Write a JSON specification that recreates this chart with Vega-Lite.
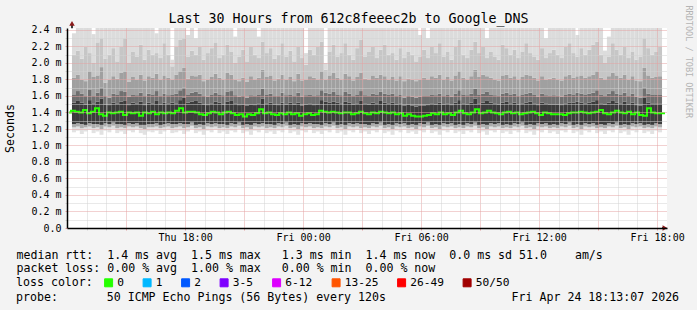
{
"$schema": "https://vega.github.io/schema/vega-lite/v6.json",
"width": 600, "height": 200,
"autosize": {"type": "none"},
"padding": {"left": 67, "top": 28, "right": 30, "bottom": 82},
"background": "#f3f3f3",
"config": {"view": {"fill": "white", "stroke": null}, "font": "DejaVu Sans Mono"},
"title": {"text": "probe:\u00a0\u00a0\u00a0\u00a0\u00a0\u00a0\u00a050 ICMP Echo Pings (56 Bytes) every 120s\u00a0\u00a0\u00a0\u00a0\u00a0\u00a0\u00a0\u00a0\u00a0\u00a0\u00a0\u00a0\u00a0\u00a0\u00a0\u00a0\u00a0\u00a0Fri Apr 24 18:13:07 2026",
  "orient": "bottom", "anchor": "start", "frame": "group", "align": "left", "baseline": "alphabetic", "offset": 0, "dx": -51, "dy": 12,
  "font": "DejaVu Sans Mono", "fontSize": 11.6, "fontWeight": "normal", "color": "black"},
"data": {"values": [
{"h":-11.65,"a":1.16,"b":1.22,"c":1.26,"m":1.40,"d":1.52,"e":1.62,"f":1.82,"g":2.1,"x":2.36},
{"h":-11.45,"a":1.18,"b":1.23,"c":1.27,"m":1.42,"d":1.54,"e":1.66,"f":1.86,"g":2.15,"x":2.6},
{"h":-11.25,"a":1.14,"b":1.21,"c":1.26,"m":1.41,"d":1.52,"e":1.63,"f":1.8,"g":2.05,"x":2.6},
{"h":-11.05,"a":1.17,"b":1.22,"c":1.25,"m":1.40,"d":1.5,"e":1.6,"f":1.78,"g":2.2,"x":2.6},
{"h":-10.85,"a":1.19,"b":1.23,"c":1.27,"m":1.43,"d":1.55,"e":1.68,"f":1.9,"g":2.12,"x":2.6},
{"h":-10.65,"a":1.15,"b":1.21,"c":1.26,"m":1.39,"d":1.51,"e":1.6,"f":1.83,"g":2.0,"x":2.35},
{"h":-10.45,"a":1.17,"b":1.22,"c":1.26,"m":1.41,"d":1.53,"e":1.64,"f":1.85,"g":2.25,"x":2.6},
{"h":-10.25,"a":1.13,"b":1.2,"c":1.25,"m":1.45,"d":1.57,"e":1.7,"f":1.95,"g":2.3,"x":2.6},
{"h":-10.05,"a":1.18,"b":1.23,"c":1.27,"m":1.38,"d":1.5,"e":1.6,"f":1.76,"g":2.05,"x":2.6},
{"h":-9.85,"a":1.16,"b":1.22,"c":1.26,"m":1.36,"d":1.49,"e":1.58,"f":1.8,"g":2.1,"x":2.6},
{"h":-9.65,"a":1.2,"b":1.24,"c":1.28,"m":1.40,"d":1.52,"e":1.63,"f":1.84,"g":2.18,"x":2.6},
{"h":-9.45,"a":1.15,"b":1.21,"c":1.26,"m":1.39,"d":1.51,"e":1.62,"f":1.81,"g":2.02,"x":2.6},
{"h":-9.25,"a":1.17,"b":1.22,"c":1.26,"m":1.40,"d":1.53,"e":1.66,"f":1.88,"g":2.2,"x":2.6},
{"h":-9.05,"a":1.14,"b":1.21,"c":1.25,"m":1.41,"d":1.54,"e":1.65,"f":1.9,"g":2.3,"x":2.6},
{"h":-8.85,"a":1.18,"b":1.23,"c":1.27,"m":1.37,"d":1.49,"e":1.59,"f":1.77,"g":2.0,"x":2.6},
{"h":-8.65,"a":1.16,"b":1.22,"c":1.26,"m":1.40,"d":1.52,"e":1.62,"f":1.83,"g":2.14,"x":2.6},
{"h":-8.45,"a":1.19,"b":1.23,"c":1.27,"m":1.39,"d":1.51,"e":1.61,"f":1.8,"g":2.08,"x":2.6},
{"h":-8.25,"a":1.15,"b":1.21,"c":1.25,"m":1.40,"d":1.53,"e":1.64,"f":1.86,"g":2.22,"x":2.6},
{"h":-8.05,"a":1.13,"b":1.2,"c":1.25,"m":1.36,"d":1.49,"e":1.6,"f":1.79,"g":2.04,"x":2.6},
{"h":-7.85,"a":1.17,"b":1.22,"c":1.26,"m":1.40,"d":1.52,"e":1.63,"f":1.84,"g":2.16,"x":2.6},
{"h":-7.65,"a":1.16,"b":1.22,"c":1.26,"m":1.39,"d":1.51,"e":1.62,"f":1.82,"g":2.1,"x":2.6},
{"h":-7.45,"a":1.18,"b":1.23,"c":1.27,"m":1.41,"d":1.54,"e":1.66,"f":1.87,"g":2.12,"x":2.36},
{"h":-7.25,"a":1.14,"b":1.21,"c":1.25,"m":1.38,"d":1.5,"e":1.6,"f":1.8,"g":2.06,"x":2.6},
{"h":-7.05,"a":1.17,"b":1.22,"c":1.26,"m":1.40,"d":1.52,"e":1.63,"f":1.85,"g":2.24,"x":2.6},
{"h":-6.85,"a":1.19,"b":1.23,"c":1.27,"m":1.39,"d":1.51,"e":1.61,"f":1.82,"g":2.1,"x":2.6},
{"h":-6.65,"a":1.15,"b":1.21,"c":1.26,"m":1.40,"d":1.52,"e":1.62,"f":1.8,"g":1.96,"x":2.04},
{"h":-6.45,"a":1.16,"b":1.22,"c":1.26,"m":1.39,"d":1.51,"e":1.63,"f":1.86,"g":2.2,"x":2.6},
{"h":-6.25,"a":1.18,"b":1.23,"c":1.27,"m":1.42,"d":1.55,"e":1.67,"f":1.9,"g":2.28,"x":2.6},
{"h":-6.05,"a":1.14,"b":1.21,"c":1.26,"m":1.45,"d":1.58,"e":1.7,"f":1.94,"g":2.3,"x":2.6},
{"h":-5.85,"a":1.17,"b":1.22,"c":1.26,"m":1.40,"d":1.52,"e":1.62,"f":1.81,"g":2.08,"x":2.34},
{"h":-5.65,"a":1.2,"b":1.24,"c":1.28,"m":1.41,"d":1.53,"e":1.64,"f":1.85,"g":2.15,"x":2.6},
{"h":-5.45,"a":1.15,"b":1.21,"c":1.25,"m":1.41,"d":1.54,"e":1.65,"f":1.84,"g":2.1,"x":2.3},
{"h":-5.25,"a":1.17,"b":1.22,"c":1.26,"m":1.40,"d":1.52,"e":1.63,"f":1.86,"g":2.2,"x":2.6},
{"h":-5.05,"a":1.13,"b":1.2,"c":1.25,"m":1.38,"d":1.5,"e":1.6,"f":1.78,"g":2.04,"x":2.6},
{"h":-4.85,"a":1.18,"b":1.23,"c":1.27,"m":1.37,"d":1.49,"e":1.59,"f":1.8,"g":2.12,"x":2.6},
{"h":-4.65,"a":1.16,"b":1.22,"c":1.26,"m":1.39,"d":1.51,"e":1.62,"f":1.83,"g":2.18,"x":2.6},
{"h":-4.45,"a":1.19,"b":1.23,"c":1.27,"m":1.41,"d":1.53,"e":1.64,"f":1.87,"g":2.25,"x":2.6},
{"h":-4.25,"a":1.15,"b":1.21,"c":1.26,"m":1.40,"d":1.52,"e":1.62,"f":1.82,"g":2.06,"x":2.6},
{"h":-4.05,"a":1.17,"b":1.22,"c":1.26,"m":1.38,"d":1.5,"e":1.61,"f":1.8,"g":2.1,"x":2.6},
{"h":-3.85,"a":1.14,"b":1.21,"c":1.25,"m":1.40,"d":1.53,"e":1.65,"f":1.88,"g":2.22,"x":2.6},
{"h":-3.65,"a":1.18,"b":1.23,"c":1.27,"m":1.41,"d":1.54,"e":1.66,"f":1.86,"g":2.14,"x":2.6},
{"h":-3.45,"a":1.16,"b":1.22,"c":1.26,"m":1.39,"d":1.51,"e":1.61,"f":1.8,"g":2.0,"x":2.32},
{"h":-3.25,"a":1.2,"b":1.24,"c":1.28,"m":1.37,"d":1.49,"e":1.59,"f":1.78,"g":2.08,"x":2.6},
{"h":-3.05,"a":1.15,"b":1.21,"c":1.25,"m":1.38,"d":1.5,"e":1.6,"f":1.82,"g":2.16,"x":2.6},
{"h":-2.85,"a":1.17,"b":1.22,"c":1.26,"m":1.35,"d":1.48,"e":1.58,"f":1.77,"g":2.02,"x":2.6},
{"h":-2.65,"a":1.13,"b":1.2,"c":1.25,"m":1.38,"d":1.5,"e":1.61,"f":1.84,"g":2.2,"x":2.6},
{"h":-2.45,"a":1.18,"b":1.23,"c":1.27,"m":1.37,"d":1.49,"e":1.6,"f":1.8,"g":2.1,"x":2.6},
{"h":-2.25,"a":1.16,"b":1.22,"c":1.26,"m":1.39,"d":1.51,"e":1.62,"f":1.82,"g":2.06,"x":2.32},
{"h":-2.05,"a":1.19,"b":1.23,"c":1.27,"m":1.44,"d":1.57,"e":1.69,"f":1.92,"g":2.26,"x":2.6},
{"h":-1.85,"a":1.15,"b":1.21,"c":1.26,"m":1.39,"d":1.51,"e":1.62,"f":1.83,"g":2.12,"x":2.6},
{"h":-1.65,"a":1.17,"b":1.22,"c":1.26,"m":1.40,"d":1.52,"e":1.63,"f":1.85,"g":2.18,"x":2.6},
{"h":-1.45,"a":1.14,"b":1.21,"c":1.25,"m":1.38,"d":1.5,"e":1.6,"f":1.79,"g":2.05,"x":2.6},
{"h":-1.25,"a":1.18,"b":1.23,"c":1.27,"m":1.37,"d":1.49,"e":1.6,"f":1.81,"g":2.1,"x":2.6},
{"h":-1.05,"a":1.16,"b":1.22,"c":1.26,"m":1.39,"d":1.52,"e":1.64,"f":1.86,"g":2.24,"x":2.6},
{"h":-0.85,"a":1.2,"b":1.24,"c":1.28,"m":1.38,"d":1.5,"e":1.61,"f":1.8,"g":2.08,"x":2.6},
{"h":-0.65,"a":1.15,"b":1.21,"c":1.25,"m":1.40,"d":1.52,"e":1.62,"f":1.83,"g":2.15,"x":2.6},
{"h":-0.45,"a":1.17,"b":1.22,"c":1.26,"m":1.38,"d":1.5,"e":1.6,"f":1.78,"g":2.02,"x":2.6},
{"h":-0.25,"a":1.13,"b":1.2,"c":1.25,"m":1.39,"d":1.52,"e":1.64,"f":1.87,"g":2.2,"x":2.6},
{"h":-0.05,"a":1.18,"b":1.23,"c":1.27,"m":1.36,"d":1.48,"e":1.59,"f":1.79,"g":2.06,"x":2.6},
{"h":0.15,"a":1.16,"b":1.22,"c":1.26,"m":1.38,"d":1.5,"e":1.61,"f":1.8,"g":1.98,"x":2.12},
{"h":0.35,"a":1.19,"b":1.23,"c":1.27,"m":1.39,"d":1.51,"e":1.62,"f":1.84,"g":2.16,"x":2.6},
{"h":0.55,"a":1.15,"b":1.21,"c":1.26,"m":1.37,"d":1.49,"e":1.6,"f":1.82,"g":2.1,"x":2.6},
{"h":0.75,"a":1.17,"b":1.22,"c":1.26,"m":1.38,"d":1.5,"e":1.61,"f":1.8,"g":2.2,"x":2.6},
{"h":0.95,"a":1.14,"b":1.21,"c":1.25,"m":1.42,"d":1.55,"e":1.67,"f":1.9,"g":2.26,"x":2.6},
{"h":1.15,"a":1.18,"b":1.23,"c":1.27,"m":1.41,"d":1.53,"e":1.64,"f":1.8,"g":1.92,"x":2.0},
{"h":1.35,"a":1.16,"b":1.22,"c":1.26,"m":1.40,"d":1.52,"e":1.63,"f":1.85,"g":2.14,"x":2.6},
{"h":1.55,"a":1.2,"b":1.24,"c":1.28,"m":1.41,"d":1.53,"e":1.65,"f":1.88,"g":2.22,"x":2.6},
{"h":1.75,"a":1.15,"b":1.21,"c":1.25,"m":1.40,"d":1.52,"e":1.62,"f":1.82,"g":2.08,"x":2.6},
{"h":1.95,"a":1.17,"b":1.22,"c":1.26,"m":1.39,"d":1.51,"e":1.61,"f":1.8,"g":2.12,"x":2.6},
{"h":2.15,"a":1.13,"b":1.2,"c":1.25,"m":1.40,"d":1.53,"e":1.65,"f":1.87,"g":2.24,"x":2.6},
{"h":2.35,"a":1.18,"b":1.23,"c":1.27,"m":1.40,"d":1.52,"e":1.63,"f":1.84,"g":2.1,"x":2.6},
{"h":2.55,"a":1.16,"b":1.22,"c":1.26,"m":1.38,"d":1.5,"e":1.6,"f":1.79,"g":2.04,"x":2.6},
{"h":2.75,"a":1.19,"b":1.23,"c":1.27,"m":1.39,"d":1.51,"e":1.62,"f":1.83,"g":2.18,"x":2.6},
{"h":2.95,"a":1.15,"b":1.21,"c":1.26,"m":1.41,"d":1.54,"e":1.66,"f":1.88,"g":2.28,"x":2.6},
{"h":3.15,"a":1.17,"b":1.22,"c":1.26,"m":1.39,"d":1.51,"e":1.61,"f":1.81,"g":2.08,"x":2.6},
{"h":3.35,"a":1.14,"b":1.21,"c":1.25,"m":1.38,"d":1.5,"e":1.6,"f":1.8,"g":2.14,"x":2.6},
{"h":3.55,"a":1.18,"b":1.23,"c":1.27,"m":1.40,"d":1.52,"e":1.63,"f":1.85,"g":2.2,"x":2.6},
{"h":3.75,"a":1.16,"b":1.22,"c":1.26,"m":1.39,"d":1.51,"e":1.62,"f":1.82,"g":2.06,"x":2.6},
{"h":3.95,"a":1.2,"b":1.24,"c":1.28,"m":1.41,"d":1.54,"e":1.65,"f":1.86,"g":2.16,"x":2.6},
{"h":4.15,"a":1.15,"b":1.21,"c":1.25,"m":1.40,"d":1.52,"e":1.63,"f":1.84,"g":2.22,"x":2.6},
{"h":4.35,"a":1.17,"b":1.22,"c":1.26,"m":1.39,"d":1.51,"e":1.62,"f":1.8,"g":2.1,"x":2.6},
{"h":4.55,"a":1.13,"b":1.2,"c":1.25,"m":1.40,"d":1.52,"e":1.63,"f":1.83,"g":2.12,"x":2.6},
{"h":4.75,"a":1.18,"b":1.23,"c":1.27,"m":1.38,"d":1.5,"e":1.6,"f":1.79,"g":2.04,"x":2.6},
{"h":4.95,"a":1.16,"b":1.22,"c":1.26,"m":1.39,"d":1.51,"e":1.62,"f":1.84,"g":2.18,"x":2.6},
{"h":5.15,"a":1.19,"b":1.23,"c":1.27,"m":1.36,"d":1.48,"e":1.58,"f":1.78,"g":2.06,"x":2.6},
{"h":5.35,"a":1.15,"b":1.21,"c":1.25,"m":1.38,"d":1.5,"e":1.6,"f":1.81,"g":2.14,"x":2.6},
{"h":5.55,"a":1.17,"b":1.22,"c":1.26,"m":1.36,"d":1.48,"e":1.59,"f":1.8,"g":2.1,"x":2.6},
{"h":5.75,"a":1.14,"b":1.2,"c":1.25,"m":1.35,"d":1.47,"e":1.58,"f":1.78,"g":2.02,"x":2.6},
{"h":5.95,"a":1.18,"b":1.23,"c":1.27,"m":1.35,"d":1.48,"e":1.59,"f":1.8,"g":2.08,"x":2.34},
{"h":6.15,"a":1.16,"b":1.22,"c":1.26,"m":1.36,"d":1.48,"e":1.6,"f":1.82,"g":2.16,"x":2.6},
{"h":6.35,"a":1.2,"b":1.24,"c":1.28,"m":1.37,"d":1.49,"e":1.6,"f":1.8,"g":2.06,"x":2.3},
{"h":6.55,"a":1.15,"b":1.21,"c":1.25,"m":1.39,"d":1.51,"e":1.62,"f":1.84,"g":2.2,"x":2.6},
{"h":6.75,"a":1.17,"b":1.22,"c":1.26,"m":1.38,"d":1.5,"e":1.61,"f":1.82,"g":2.12,"x":2.6},
{"h":6.95,"a":1.13,"b":1.2,"c":1.25,"m":1.40,"d":1.52,"e":1.63,"f":1.86,"g":2.24,"x":2.6},
{"h":7.15,"a":1.18,"b":1.23,"c":1.27,"m":1.38,"d":1.5,"e":1.6,"f":1.8,"g":2.08,"x":2.6},
{"h":7.35,"a":1.16,"b":1.22,"c":1.26,"m":1.39,"d":1.51,"e":1.62,"f":1.83,"g":2.14,"x":2.6},
{"h":7.55,"a":1.19,"b":1.23,"c":1.27,"m":1.37,"d":1.49,"e":1.59,"f":1.79,"g":2.04,"x":2.6},
{"h":7.75,"a":1.15,"b":1.21,"c":1.25,"m":1.40,"d":1.52,"e":1.63,"f":1.85,"g":2.2,"x":2.6},
{"h":7.95,"a":1.17,"b":1.22,"c":1.26,"m":1.42,"d":1.55,"e":1.67,"f":1.9,"g":2.28,"x":2.6},
{"h":8.15,"a":1.14,"b":1.21,"c":1.25,"m":1.39,"d":1.51,"e":1.62,"f":1.82,"g":2.1,"x":2.6},
{"h":8.35,"a":1.18,"b":1.23,"c":1.27,"m":1.38,"d":1.5,"e":1.61,"f":1.8,"g":2.06,"x":2.6},
{"h":8.55,"a":1.16,"b":1.22,"c":1.26,"m":1.40,"d":1.52,"e":1.63,"f":1.84,"g":2.16,"x":2.6},
{"h":8.75,"a":1.2,"b":1.24,"c":1.28,"m":1.44,"d":1.57,"e":1.69,"f":1.92,"g":2.26,"x":2.6},
{"h":8.95,"a":1.15,"b":1.21,"c":1.25,"m":1.39,"d":1.51,"e":1.62,"f":1.83,"g":2.12,"x":2.6},
{"h":9.15,"a":1.17,"b":1.22,"c":1.26,"m":1.40,"d":1.52,"e":1.63,"f":1.86,"g":2.2,"x":2.6},
{"h":9.35,"a":1.13,"b":1.2,"c":1.25,"m":1.42,"d":1.54,"e":1.65,"f":1.84,"g":2.06,"x":2.3},
{"h":9.55,"a":1.18,"b":1.23,"c":1.27,"m":1.40,"d":1.52,"e":1.62,"f":1.82,"g":2.14,"x":2.6},
{"h":9.75,"a":1.16,"b":1.22,"c":1.26,"m":1.39,"d":1.51,"e":1.61,"f":1.8,"g":2.08,"x":2.6},
{"h":9.95,"a":1.19,"b":1.23,"c":1.27,"m":1.38,"d":1.5,"e":1.6,"f":1.79,"g":2.04,"x":2.6},
{"h":10.15,"a":1.15,"b":1.21,"c":1.25,"m":1.40,"d":1.52,"e":1.63,"f":1.85,"g":2.22,"x":2.6},
{"h":10.35,"a":1.17,"b":1.22,"c":1.26,"m":1.41,"d":1.53,"e":1.64,"f":1.86,"g":2.18,"x":2.6},
{"h":10.55,"a":1.14,"b":1.21,"c":1.25,"m":1.39,"d":1.51,"e":1.62,"f":1.82,"g":2.1,"x":2.6},
{"h":10.75,"a":1.18,"b":1.23,"c":1.27,"m":1.40,"d":1.52,"e":1.63,"f":1.84,"g":2.16,"x":2.6},
{"h":10.95,"a":1.16,"b":1.22,"c":1.26,"m":1.38,"d":1.5,"e":1.6,"f":1.8,"g":2.06,"x":2.6},
{"h":11.15,"a":1.2,"b":1.24,"c":1.28,"m":1.39,"d":1.51,"e":1.62,"f":1.83,"g":2.14,"x":2.6},
{"h":11.35,"a":1.15,"b":1.21,"c":1.25,"m":1.40,"d":1.52,"e":1.63,"f":1.86,"g":2.24,"x":2.6},
{"h":11.55,"a":1.17,"b":1.22,"c":1.26,"m":1.41,"d":1.53,"e":1.64,"f":1.85,"g":2.12,"x":2.6},
{"h":11.75,"a":1.13,"b":1.2,"c":1.25,"m":1.39,"d":1.51,"e":1.62,"f":1.82,"g":2.08,"x":2.6},
{"h":11.95,"a":1.18,"b":1.23,"c":1.27,"m":1.37,"d":1.49,"e":1.59,"f":1.79,"g":2.04,"x":2.6},
{"h":12.15,"a":1.16,"b":1.22,"c":1.26,"m":1.40,"d":1.52,"e":1.63,"f":1.84,"g":2.18,"x":2.6},
{"h":12.35,"a":1.19,"b":1.23,"c":1.27,"m":1.39,"d":1.51,"e":1.61,"f":1.8,"g":2.06,"x":2.3},
{"h":12.55,"a":1.15,"b":1.21,"c":1.25,"m":1.38,"d":1.5,"e":1.6,"f":1.81,"g":2.12,"x":2.6},
{"h":12.75,"a":1.17,"b":1.22,"c":1.26,"m":1.38,"d":1.5,"e":1.61,"f":1.82,"g":2.16,"x":2.6},
{"h":12.95,"a":1.14,"b":1.21,"c":1.25,"m":1.38,"d":1.5,"e":1.6,"f":1.8,"g":2.1,"x":2.6},
{"h":13.15,"a":1.18,"b":1.23,"c":1.27,"m":1.37,"d":1.49,"e":1.59,"f":1.79,"g":2.06,"x":2.6},
{"h":13.35,"a":1.16,"b":1.22,"c":1.26,"m":1.39,"d":1.51,"e":1.62,"f":1.84,"g":2.2,"x":2.6},
{"h":13.55,"a":1.2,"b":1.24,"c":1.28,"m":1.40,"d":1.52,"e":1.63,"f":1.86,"g":2.24,"x":2.6},
{"h":13.75,"a":1.15,"b":1.21,"c":1.25,"m":1.40,"d":1.52,"e":1.62,"f":1.82,"g":2.12,"x":2.6},
{"h":13.95,"a":1.17,"b":1.22,"c":1.26,"m":1.41,"d":1.53,"e":1.64,"f":1.84,"g":2.08,"x":2.34},
{"h":14.15,"a":1.13,"b":1.2,"c":1.25,"m":1.40,"d":1.52,"e":1.63,"f":1.85,"g":2.18,"x":2.6},
{"h":14.35,"a":1.18,"b":1.23,"c":1.27,"m":1.39,"d":1.51,"e":1.62,"f":1.82,"g":2.1,"x":2.6},
{"h":14.55,"a":1.16,"b":1.22,"c":1.26,"m":1.40,"d":1.52,"e":1.63,"f":1.84,"g":2.16,"x":2.6},
{"h":14.75,"a":1.19,"b":1.23,"c":1.27,"m":1.41,"d":1.53,"e":1.64,"f":1.86,"g":2.22,"x":2.6},
{"h":14.95,"a":1.15,"b":1.21,"c":1.25,"m":1.43,"d":1.55,"e":1.67,"f":1.9,"g":2.26,"x":2.6},
{"h":15.15,"a":1.17,"b":1.22,"c":1.26,"m":1.39,"d":1.51,"e":1.62,"f":1.82,"g":2.1,"x":2.6},
{"h":15.35,"a":1.14,"b":1.21,"c":1.25,"m":1.38,"d":1.5,"e":1.6,"f":1.8,"g":2.0,"x":2.15},
{"h":15.55,"a":1.18,"b":1.23,"c":1.27,"m":1.40,"d":1.52,"e":1.63,"f":1.84,"g":2.08,"x":2.32},
{"h":15.75,"a":1.16,"b":1.22,"c":1.26,"m":1.42,"d":1.54,"e":1.66,"f":1.88,"g":2.24,"x":2.6},
{"h":15.95,"a":1.2,"b":1.24,"c":1.28,"m":1.40,"d":1.52,"e":1.63,"f":1.85,"g":2.16,"x":2.6},
{"h":16.15,"a":1.15,"b":1.21,"c":1.25,"m":1.39,"d":1.51,"e":1.62,"f":1.82,"g":2.1,"x":2.6},
{"h":16.35,"a":1.17,"b":1.22,"c":1.26,"m":1.41,"d":1.53,"e":1.64,"f":1.86,"g":2.2,"x":2.6},
{"h":16.55,"a":1.13,"b":1.2,"c":1.25,"m":1.38,"d":1.5,"e":1.6,"f":1.8,"g":2.06,"x":2.6},
{"h":16.75,"a":1.18,"b":1.23,"c":1.27,"m":1.40,"d":1.52,"e":1.63,"f":1.84,"g":2.14,"x":2.6},
{"h":16.95,"a":1.16,"b":1.22,"c":1.26,"m":1.37,"d":1.49,"e":1.59,"f":1.79,"g":2.04,"x":2.6},
{"h":17.15,"a":1.19,"b":1.23,"c":1.27,"m":1.36,"d":1.48,"e":1.58,"f":1.78,"g":2.08,"x":2.6},
{"h":17.35,"a":1.15,"b":1.21,"c":1.25,"m":1.45,"d":1.58,"e":1.7,"f":1.94,"g":2.3,"x":2.6},
{"h":17.55,"a":1.17,"b":1.22,"c":1.26,"m":1.40,"d":1.52,"e":1.63,"f":1.85,"g":2.18,"x":2.6},
{"h":17.75,"a":1.14,"b":1.21,"c":1.25,"m":1.39,"d":1.51,"e":1.62,"f":1.82,"g":2.1,"x":2.6},
{"h":17.95,"a":1.18,"b":1.23,"c":1.27,"m":1.39,"d":1.51,"e":1.62,"f":1.83,"g":2.14,"x":2.6},
{"h":18.15,"a":1.16,"b":1.22,"c":1.26,"m":1.39,"d":1.51,"e":1.62,"f":1.84,"g":2.2,"x":2.6}
]},
"layer": [
 {"layer": [
  {"mark": {"type": "bar", "width": 4, "clip": true, "color": "#e2e2e2"},
   "encoding": {
    "x": {"field": "h", "type": "quantitative",
      "scale": {"domain": [-11.75, 18.25], "nice": false, "zero": false},
      "axis": {
        "values": [-11,-10,-9,-8,-7,-6,-5,-4,-3,-2,-1,0,1,2,3,4,5,6,7,8,9,10,11,12,13,14,15,16,17,18],
        "tickCount": 200,
        "labelExpr": "datum.value % 6 == 0 ? ['Thu 18:00','Fri 00:00','Fri 06:00','Fri 12:00','Fri 18:00'][(datum.value+6)/6] : ''",
        "labelFont": "DejaVu Sans Mono", "labelFontSize": 10, "labelColor": "black", "labelPadding": 2,
        "labelOverlap": false, "labelBound": false, "labelFlush": false,
        "grid": true,
        "gridColor": {"condition": {"test": "datum.value % 3 == 0", "value": "#e4a2a2"}, "value": "#d2d2d2"},
        "gridDash": [1, 1], "gridWidth": 1,
        "tickColor": {"condition": {"test": "datum.value % 3 == 0", "value": "#e4a2a2"}, "value": "#d2d2d2"},
        "tickSize": 2,
        "domainColor": "black", "domainWidth": 1.5, "zindex": 1,
        "title": [
          "median rtt:\u00a0\u00a01.4 ms avg\u00a0\u00a01.5 ms max\u00a0\u00a0\u00a01.3 ms min\u00a0\u00a01.4 ms now\u00a0\u00a00.0 ms sd 51.0\u00a0\u00a0\u00a0\u00a0am/s",
          "packet loss: 0.00 % avg\u00a0\u00a01.00 % max\u00a0\u00a0\u00a00.00 % min\u00a0\u00a00.00 % now"
        ],
        "titleFont": "DejaVu Sans Mono", "titleFontSize": 11.6, "titleFontWeight": "normal", "titleColor": "black",
        "titleAlign": "left", "titleBaseline": "alphabetic", "titleX": -51, "titleY": 30, "titleLineHeight": 13
      }},
    "y": {"field": "a", "type": "quantitative",
      "scale": {"domain": [0, 2.4242], "nice": false, "zero": true},
      "axis": {
        "values": [0,0.1,0.2,0.3,0.4,0.5,0.6,0.7,0.8,0.9,1,1.1,1.2,1.3,1.4,1.5,1.6,1.7,1.8,1.9,2,2.1,2.2,2.3,2.4],
        "tickCount": 200,
        "labelExpr": "round(datum.value*10)%2==0 ? (datum.value==0 ? '0.0' : format(datum.value,'.1f')+' m') : ''",
        "labelFont": "DejaVu Sans Mono", "labelFontSize": 10, "labelColor": "black", "labelPadding": 4,
        "labelOverlap": false, "labelBound": false, "labelFlush": false,
        "grid": true,
        "gridColor": {"condition": {"test": "round(datum.value*10)%2==0", "value": "#e4a2a2"}, "value": "#d2d2d2"},
        "gridDash": [1, 1], "gridWidth": 1,
        "tickColor": {"condition": {"test": "round(datum.value*10)%2==0", "value": "#e4a2a2"}, "value": "#d2d2d2"},
        "tickSize": 2,
        "domainColor": "black", "domainWidth": 1.5, "zindex": 1,
        "title": "Seconds", "titleFont": "DejaVu Sans Mono", "titleFontSize": 11.6, "titleFontWeight": "normal", "titleColor": "black",
        "titleX": -57, "titleY": 100, "titleAlign": "center", "titleBaseline": "middle"
      }},
    "y2": {"field": "b"}
   }},
  {"mark": {"type": "bar", "width": 4, "clip": true, "color": "#ababab"},
   "encoding": {"x": {"field": "h", "type": "quantitative"}, "y": {"field": "b", "type": "quantitative"}, "y2": {"field": "c"}}},
  {"mark": {"type": "bar", "width": 4, "clip": true, "color": "#3c3c3c"},
   "encoding": {"x": {"field": "h", "type": "quantitative"}, "y": {"field": "c", "type": "quantitative"}, "y2": {"field": "d"}}},
  {"mark": {"type": "bar", "width": 4, "clip": true, "color": "#707070"},
   "encoding": {"x": {"field": "h", "type": "quantitative"}, "y": {"field": "d", "type": "quantitative"}, "y2": {"field": "e"}}},
  {"mark": {"type": "bar", "width": 4, "clip": true, "color": "#a0a0a0"},
   "encoding": {"x": {"field": "h", "type": "quantitative"}, "y": {"field": "e", "type": "quantitative"}, "y2": {"field": "f"}}},
  {"mark": {"type": "bar", "width": 4, "clip": true, "color": "#c6c6c6"},
   "encoding": {"x": {"field": "h", "type": "quantitative"}, "y": {"field": "f", "type": "quantitative"}, "y2": {"field": "g"}}},
  {"mark": {"type": "bar", "width": 4, "clip": true, "color": "#dcdcdc"},
   "encoding": {"x": {"field": "h", "type": "quantitative"}, "y": {"field": "g", "type": "quantitative"}, "y2": {"field": "x"}}},
  {"data": {"values": [{}]},
   "mark": {"type": "rule", "color": "black", "strokeWidth": 1.5},
   "encoding": {"x": {"datum": -11.75}, "y": {"datum": 2.42}, "y2": {"datum": 2.47}}},
  {"data": {"values": [{}]},
   "mark": {"type": "rule", "color": "black", "strokeWidth": 1.5},
   "encoding": {"y": {"datum": 0}, "x": {"datum": 18.25}, "x2": {"datum": 18.38}}},
  {"data": {"values": [{}]},
   "mark": {"type": "point", "shape": "triangle-up", "filled": true, "color": "#8b1a1a", "size": 30, "opacity": 1},
   "encoding": {"x": {"datum": -11.75}, "y": {"datum": 2.48}}},
  {"data": {"values": [{}]},
   "mark": {"type": "point", "shape": "triangle-right", "filled": true, "color": "#8b1a1a", "size": 30, "opacity": 1},
   "encoding": {"x": {"datum": 18.4}, "y": {"datum": 0}}}
 ]},
 {"mark": {"type": "line", "interpolate": "step", "strokeWidth": 2, "clip": true},
  "encoding": {
   "x": {"field": "h", "type": "quantitative",
     "scale": {"domain": [-11.75, 18.25], "nice": false, "zero": false},
     "axis": {"orient": "top", "labels": false, "ticks": false, "domain": false, "grid": false,
       "title": "Last 30 Hours from 612c8feeec2b to Google_DNS", "titleX": 281, "titleY": -6,
       "titleAlign": "center", "titleBaseline": "alphabetic", "titleFont": "DejaVu Sans Mono",
       "titleFontSize": 13.3, "titleFontWeight": "normal", "titleColor": "black"}},
   "y": {"field": "m", "type": "quantitative",
     "scale": {"domain": [0, 2.4242], "nice": false, "zero": true},
     "axis": {"orient": "right", "labels": false, "ticks": false, "domain": false, "grid": false,
       "title": "RRDTOOL / TOBI OETIKER", "titleAngle": 90, "titleX": 21, "titleY": -23,
       "titleAlign": "left", "titleBaseline": "middle", "titleFont": "DejaVu Sans Mono",
       "titleFontSize": 8.5, "titleFontWeight": "normal", "titleColor": "#b4b4b4"}},
   "color": {"datum": "0",
     "scale": {"domain": ["0","1","2","3-5","6-12","13-25","26-49","50/50"],
               "range": ["#26ff00","#00b8ff","#0059ff","#7e00ff","#dd00ff","#ff5500","#ff0000","#a10000"]},
     "legend": {"orient": "none", "legendX": -51, "legendY": 249, "direction": "horizontal",
       "title": "loss color:", "titleOrient": "left", "titlePadding": 10,
       "titleFont": "DejaVu Sans Mono", "titleFontSize": 11.6, "titleFontWeight": "normal", "titleColor": "black",
       "symbolType": "square", "symbolSize": 64, "symbolStrokeColor": "black", "symbolStrokeWidth": 1,
       "labelFont": "DejaVu Sans Mono", "labelFontSize": 11.2, "labelColor": "black", "labelOffset": 3,
       "columnPadding": 16.5, "padding": 0,
       "encode": {"symbols": {"update": {"fill": {"scale": "color", "field": "value"}, "fillOpacity": {"value": 1}, "stroke": {"value": "black"}}}}}}
  }}
],
"resolve": {"scale": {"x": "independent", "y": "independent"}}
}
